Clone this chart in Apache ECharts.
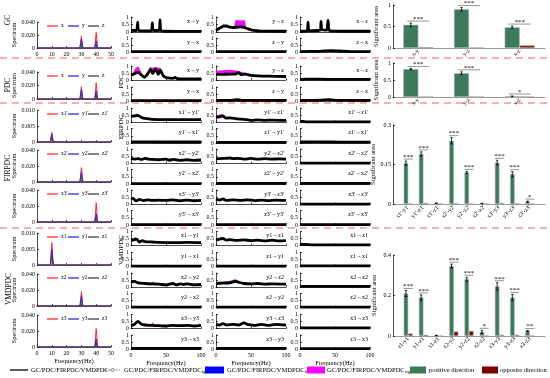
<!DOCTYPE html>
<html><head><meta charset="utf-8">
<script src="https://cdn.jsdelivr.net/npm/echarts/dist/echarts.min.js"></script>
<style>html,body{margin:0;padding:0;background:#fff}#c{width:550px;height:378px}</style>
</head><body><div id="c"></div>
<script>
// ---------------- DATA ----------------
// spectra [freq, value]
const gcSpecX = [[0,0],[9,0],[10,0.003],[11,0],[29,0],[30,0.0185],[31,0],[39,0],[40,0.024],[41,0],[50,0]];
const gcSpecY = [[0,0],[9,0],[10,0.002],[11,0],[29,0],[30,0.014],[31,0],[39,0],[40,0.011],[41,0],[50,0]];
const gcSpecZ = [[0,0],[9,0],[10,0.001],[11,0],[29,0],[30,0.007],[31,0],[39,0],[40,0.005],[41,0],[50,0]];
const pdcSpecX = [[0,0],[9,0],[10,0.002],[11,0],[29,0],[30,0.018],[31,0],[39,0],[40,0.024],[41,0],[50,0]];
const pdcSpecY = [[0,0],[9,0],[10,0.0015],[11,0],[29,0],[30,0.014],[31,0],[39,0],[40,0.012],[41,0],[50,0]];
const pdcSpecZ = [[0,0],[9,0],[10,0.001],[11,0],[29,0],[30,0.008],[31,0],[39,0],[40,0.006],[41,0],[50,0]];
const firSpec1 = [[[0,0],[9,0],[10,0.003],[11,0],[50,0]], [[0,0],[9,0],[10,0.0025],[11,0],[50,0]], [[0,0],[9,0],[10,0.0015],[11,0],[50,0]]];
const firSpec2 = [[[0,0],[29,0],[30,0.018],[31,0],[50,0]], [[0,0],[29,0],[30,0.012],[31,0],[50,0]], [[0,0],[29,0],[30,0.008],[31,0],[50,0]]];
const firSpec3 = [[[0,0],[39,0],[40,0.024],[41,0],[50,0]], [[0,0],[39,0],[40,0.010],[41,0],[50,0]], [[0,0],[39,0],[40,0.006],[41,0],[50,0]]];
const vmdSpec1 = [[[0,0],[9,0],[10,0.007],[11,0],[50,0]], [[0,0],[9,0],[10,0.005],[11,0],[50,0]], [[0,0],[9,0],[10,0.003],[11,0],[50,0]]];
const vmdSpec2 = [[[0,0],[29,0],[30,0.018],[31,0],[50,0]], [[0,0],[29,0],[30,0.012],[31,0],[50,0]], [[0,0],[29,0],[30,0.007],[31,0],[50,0]]];
const vmdSpec3 = [[[0,0],[39,0],[40,0.023],[41,0],[50,0]], [[0,0],[39,0],[40,0.010],[41,0],[50,0]], [[0,0],[39,0],[40,0.005],[41,0],[50,0]]];
const gcSpecNames = ['x','y','z'];
const firSpecNames = [["x1'","y1'","z1'"],["x2'","y2'","z2'"],["x3'","y3'","z3'"]];
const vmdSpecNames = [["x1","y1","z1"],["x2","y2","z2"],["x3","y3","z3"]];

// connectivity curves [freq, value]; significant regions [freq, low, high]
const gcB = [
  [[0,0.12],[4,0.1],[8,0.09],[9.5,0.65],[11,0.1],[20,0.08],[29,0.09],[30.5,0.6],[32,0.1],[40,0.1],[41.5,0.8],[43,0.08],[50,0.05],[70,0.04],[100,0.04]],
  [[0,0.03],[30,0.03],[60,0.02],[100,0.02]]];
const gcC = [
  [[0,0.1],[5,0.25],[10,0.38],[15,0.4],[20,0.32],[25,0.3],[30,0.32],[35,0.35],[40,0.3],[45,0.22],[50,0.15],[55,0.1],[65,0.06],[100,0.05]],
  [[0,0.02],[100,0.02]]];
const gcD = [
  [[0,0.05],[10,0.06],[11.5,0.65],[13,0.08],[25,0.1],[29,0.12],[30,0.7],[31.5,0.15],[38,0.12],[40,0.78],[42,0.1],[50,0.06],[70,0.05],[100,0.05]],
  [[0,0.03],[25,0.05],[35,0.08],[45,0.1],[55,0.07],[70,0.04],[100,0.03]]];
const gcCsig = [[[[8,0.35,0.35],[11,0.39,0.55],[14,0.4,0.4]], [[26,0.3,0.3],[28,0.31,0.8],[35,0.35,0.75],[41,0.29,0.78],[43,0.26,0.26]]], []];

const pdcB = [
  [[0,0.35],[5,0.45],[10,0.55],[15,0.35],[19,0.2],[24,0.45],[28,0.75],[31,0.45],[35,0.8],[39,0.4],[42,0.7],[46,0.3],[52,0.15],[60,0.12],[63,0.18],[66,0.1],[80,0.08],[100,0.08]],
  [[0,0.03],[100,0.03]]];
const pdcC = [
  [[0,0.4],[10,0.4],[20,0.42],[27,0.42],[32,0.52],[36,0.38],[42,0.42],[50,0.33],[60,0.3],[75,0.28],[100,0.25]],
  [[0,0.04],[20,0.05],[30,0.09],[40,0.05],[100,0.04]]];
const pdcD = [
  [[0,0.05],[20,0.06],[40,0.05],[100,0.04]],
  [[0,0.04],[30,0.06],[40,0.1],[50,0.06],[100,0.04]]];
const pdcBsig = [[[[2,0.4,0.42],[6,0.47,0.8],[10,0.55,0.98],[14,0.38,0.6],[17,0.28,0.3]], [[23,0.42,0.45],[27,0.7,0.9],[31,0.45,0.88],[35,0.8,0.9],[39,0.4,0.88],[42,0.7,0.85],[45,0.33,0.35]]], []];
const pdcCsig = [[[[0,0.4,0.65],[10,0.4,0.7],[20,0.42,0.72],[27,0.42,0.68],[32,0.52,0.62],[36,0.38,0.58],[42,0.42,0.5],[45,0.38,0.38]]], []];

const firB = [
  [[0,0.42],[5,0.45],[10,0.48],[15,0.35],[20,0.28],[30,0.22],[50,0.2],[100,0.2]],
  [[0,0.08],[50,0.07],[100,0.07]],
  [[0,0.35],[5,0.3],[10,0.33],[15,0.28],[20,0.35],[25,0.3],[30,0.28],[40,0.26],[50,0.3],[55,0.22],[60,0.28],[70,0.22],[80,0.26],[90,0.22],[100,0.24]],
  [[0,0.03],[100,0.03]],
  [[0,0.35],[3,0.42],[7,0.25],[12,0.35],[18,0.27],[25,0.32],[30,0.28],[40,0.3],[50,0.28],[60,0.32],[70,0.26],[80,0.3],[90,0.26],[100,0.28]],
  [[0,0.02],[100,0.02]]];
const firC = [
  [[0,0.35],[5,0.38],[10,0.45],[14,0.3],[20,0.32],[30,0.25],[40,0.22],[50,0.15],[60,0.18],[70,0.15],[80,0.17],[100,0.15]],
  [[0,0.05],[100,0.05]],
  [[0,0.32],[10,0.35],[20,0.38],[25,0.33],[30,0.36],[40,0.3],[50,0.35],[60,0.3],[70,0.33],[80,0.3],[90,0.32],[100,0.3]],
  [[0,0.05],[100,0.04]],
  [[0,0.35],[5,0.3],[10,0.38],[15,0.28],[25,0.32],[35,0.28],[45,0.32],[55,0.27],[65,0.3],[75,0.27],[85,0.3],[100,0.28]],
  [[0,0.02],[100,0.02]]];
const firD = [
  [[0,0.1],[5,0.08],[10,0.05],[100,0.05]],
  [[0,0.07],[30,0.08],[60,0.06],[100,0.06]],
  [[0,0.03],[100,0.03]],
  [[0,0.05],[50,0.05],[100,0.05]],
  [[0,0.03],[100,0.03]],
  [[0,0.02],[100,0.02]]];
const firBsig = [[[[2,0.43,0.45],[8,0.47,0.6],[12,0.42,0.5],[15,0.35,0.35]]], [],
  [[[0,0.35,0.4],[3,0.32,0.35]], [[18,0.33,0.33],[22,0.34,0.45],[26,0.3,0.3]], [[52,0.28,0.28],[56,0.23,0.35],[60,0.27,0.27]], [[68,0.23,0.23],[72,0.23,0.32],[76,0.24,0.24]], [[85,0.24,0.24],[88,0.22,0.32],[92,0.22,0.22]]],
  [], [[[28,0.29,0.29],[31,0.28,0.4],[34,0.29,0.29]]], []];
const firCsig = [[[[0,0.35,0.45],[5,0.38,0.55],[10,0.45,0.55],[13,0.32,0.35]]], [], [], [], [[[40,0.3,0.3],[43,0.3,0.36],[46,0.31,0.31]]], []];

const vmdB = [
  [[0,0.35],[4,0.4],[8,0.45],[12,0.25],[16,0.35],[20,0.28],[30,0.25],[40,0.22],[60,0.2],[80,0.22],[100,0.2]],
  [[0,0.03],[100,0.03]],
  [[0,0.35],[5,0.4],[10,0.3],[20,0.25],[30,0.22],[40,0.2],[50,0.15],[55,0.2],[60,0.25],[65,0.15],[70,0.22],[75,0.18],[80,0.22],[90,0.15],[100,0.18]],
  [[0,0.03],[100,0.03]],
  [[0,0.2],[5,0.3],[10,0.5],[15,0.3],[20,0.25],[30,0.22],[40,0.2],[50,0.18],[60,0.22],[70,0.2],[80,0.22],[90,0.18],[100,0.22]],
  [[0,0.04],[100,0.04]]];
const vmdC = [
  [[0,0.4],[5,0.45],[10,0.5],[15,0.38],[20,0.42],[30,0.36],[40,0.4],[50,0.35],[60,0.38],[70,0.33],[80,0.38],[90,0.33],[100,0.35]],
  [[0,0.03],[100,0.03]],
  [[0,0.25],[10,0.28],[20,0.3],[28,0.4],[32,0.35],[40,0.25],[50,0.22],[60,0.25],[70,0.2],[80,0.23],[100,0.2]],
  [[0,0.03],[100,0.03]],
  [[0,0.3],[5,0.25],[10,0.35],[15,0.25],[25,0.3],[32,0.25],[40,0.4],[45,0.3],[55,0.22],[65,0.3],[75,0.22],[85,0.3],[100,0.25]],
  [[0,0.05],[100,0.05]]];
const vmdD = [
  [[0,0.1],[10,0.07],[20,0.05],[100,0.05]],
  [[0,0.05],[100,0.05]],
  [[0,0.05],[100,0.05]],
  [[0,0.03],[100,0.03]],
  [[0,0.05],[100,0.05]],
  [[0,0.03],[100,0.03]]];
const vmdBsig = [[[[2,0.37,0.4],[6,0.42,0.6],[9,0.42,0.45]]], [],
  [[[0,0.35,0.4],[5,0.4,0.48],[9,0.32,0.35]], [[28,0.22,0.22],[31,0.22,0.38],[34,0.21,0.21]], [[57,0.22,0.22],[60,0.25,0.33],[63,0.18,0.18]], [[78,0.21,0.21],[81,0.21,0.3],[84,0.2,0.2]]],
  [], [[[28,0.22,0.22],[31,0.22,0.42],[34,0.21,0.21]], [[68,0.2,0.2],[72,0.21,0.3],[76,0.21,0.21]], [[94,0.19,0.19],[98,0.21,0.32],[100,0.22,0.22]]], []];
const vmdCsig = [[[[3,0.43,0.45],[8,0.48,0.6],[12,0.45,0.48],[15,0.38,0.38]], [[45,0.37,0.37],[50,0.35,0.42],[55,0.36,0.36]]], [],
  [[[0,0.25,0.3],[10,0.28,0.35],[20,0.3,0.42],[28,0.4,0.55],[33,0.34,0.4],[38,0.27,0.27]]], [], [[[36,0.32,0.32],[40,0.4,0.5],[44,0.32,0.32]]], []];

const gcLabels = [['x→y','y→x'],['y→z','z→y'],['x→z','z→x']];
const firLabels = [["x1'→y1'","y1'→x1'","x2'→y2'","y2'→x2'","x3'→y3'","y3'→x3'"],
                   ["y1'→z1'","z1'→y1'","y2'→z2'","z2'→y2'","y3'→z3'","z3'→y3'"],
                   ["x1'→z1'","z1'→x1'","x2'→z2'","z2'→x2'","x3'→z3'","z3'→x3'"]];
const vmdLabels = [["x1→y1","y1→x1","x2→y2","y2→x2","x3→y3","y3→x3"],
                   ["y1→z1","z1→y1","y2→z2","z2→y2","y3→z3","z3→y3"],
                   ["x1→z1","z1→x1","x2→z2","z2→x2","x3→z3","z3→x3"]];

// significant area bars
const barCats3 = ['x-y','y-z','x-z'];
const gcPos = [0.54, 0.90, 0.48], gcOpp = [0.02, 0.01, 0.06], gcErr = [0.04, 0.04, 0.03], gcStars = ['***','***','***'];
const pdcPos = [0.82, 0.70, 0.02], pdcOpp = [0.01, 0.01, 0.01], pdcErr = [0.02, 0.04, 0.01], pdcStars = ['***','***','*'];
const firCats = ["x1'-y1'","y1'-z1'","x1'-z1'","x2'-y2'","y2'-z2'","x2'-z2'","x3'-y3'","y3'-z3'","x3'-z3'"];
const firPos = [0.155, 0.19, 0.003, 0.24, 0.12, 0.002, 0.157, 0.113, 0.009];
const firOpp = [0.002, 0.004, 0.002, 0.003, 0.002, 0.001, 0.004, 0.003, 0.001];
const firErr = [0.008, 0.008, 0.001, 0.012, 0.004, 0.001, 0.009, 0.010, 0.002];
const firStars = ['***','***','','***','***','','***','***','*'];
const vmdCats = ["x1-y1","y1-z1","x1-z1","x2-y2","y2-z2","x2-z2","x3-y3","y3-z3","x3-z3"];
const vmdPos = [0.21, 0.19, 0.003, 0.345, 0.28, 0.02, 0.245, 0.19, 0.025];
const vmdOpp = [0.012, 0.006, 0.002, 0.022, 0.025, 0.002, 0.006, 0.006, 0.002];
const vmdErr = [0.015, 0.013, 0.001, 0.010, 0.010, 0.008, 0.018, 0.015, 0.002];
const vmdStars = ['***','***','','***','***','*','***','***','**'];

// ---------------- BUILD ----------------
const FONT = 'Liberation Serif';
const GREEN = '#3c7a5b', DRED = '#7d0000', MAG = '#ff00ff';
const grids = [], xAxes = [], yAxes = [], series = [], graphics = [];

function grid(l, t, w, h) {
  grids.push({left: l, top: t, width: w, height: h, containLabel: false, outerBoundsMode: 'none'});
  return grids.length - 1;
}
function ax(extra) {
  return Object.assign({
    axisLine: {show: true, onZero: false, lineStyle: {color: '#000', width: 0.7}},
    axisTick: {show: true, inside: true, length: 2, lineStyle: {color: '#000', width: 0.7}},
    splitLine: {show: false},
    axisLabel: {fontSize: 6, fontFamily: FONT, color: '#000', margin: 2}
  }, extra);
}
function text(x, y, s, opt) {
  graphics.push(Object.assign({type: 'text', x: x, y: y, silent: true,
    style: Object.assign({text: s, fontSize: 6, fontFamily: FONT, fill: '#000'}, (opt && opt.style) || {})},
    (opt && opt.el) || {}));
}
function vtext(x, y, s, size) {
  graphics.push({type: 'text', x: x, y: y, rotation: Math.PI / 2, silent: true,
    style: {text: s, fontSize: size || 7, fontFamily: FONT, fill: '#000', align: 'center', verticalAlign: 'middle'}});
}
function line(x1, y1, x2, y2, style) {
  graphics.push({type: 'line', silent: true, shape: {x1, y1, x2, y2}, style: Object.assign({stroke: '#000', lineWidth: 1}, style)});
}

// spectrum panel
const SX = 37, SW = 74;
function spec(top, bot, maxV, curves, names, showX, showTitle) {
  const g = grid(SX, top, SW, bot - top);
  xAxes.push(ax({gridIndex: g, type: 'value', min: 0, max: 50, interval: 10,
    axisLabel: {show: showX, fontSize: 6, fontFamily: FONT, color: '#000', margin: 3},
    name: showTitle ? 'Frequency(Hz)' : '', nameLocation: 'middle', nameGap: 11,
    nameTextStyle: {fontSize: 6.5, fontFamily: FONT, color: '#000'}}));
  yAxes.push(ax({gridIndex: g, type: 'value', min: 0, max: maxV, interval: maxV / 2,
    axisLabel: {fontSize: 6, fontFamily: FONT, color: '#000', margin: 2, formatter: v => v === 0 ? '0' : v.toFixed(3)},
    name: 'Spectrum', nameLocation: 'middle', nameGap: 16, nameRotate: 90,
    nameTextStyle: {fontSize: 6.5, fontFamily: FONT, color: '#000'}}));
  const ai = xAxes.length - 1;
  const cols = ['#ff2a2a', '#2a2aff', '#444444'];
  curves.forEach((c, k) => series.push({type: 'line', xAxisIndex: ai, yAxisIndex: ai, data: c, showSymbol: false,
    lineStyle: {color: cols[k], width: 1}, areaStyle: k === 0 ? {color: 'rgba(255,80,80,0.45)'} : (k === 1 ? {color: 'rgba(60,60,255,0.5)'} : undefined),
    silent: true, animation: false, z: 2 + k}));
  const ly = top + 4;
  const lc = ['#ff5555', '#5555ff', '#666666'];
  [[10, 21, 24], [31, 42, 45], [51, 62, 65]].forEach((p, k) => {
    line(SX + p[0], ly, SX + p[1], ly, {stroke: lc[k], lineWidth: 1.6});
    text(SX + p[2], ly, names[k], {style: {verticalAlign: 'middle', fontSize: 5.5}});
  });
}

// connectivity panel
const MX = [131, 216, 300], MW = 70;
function mid(col, top, h, mean, sig, label, showX) {
  const g = grid(MX[col], top, MW, h);
  xAxes.push(ax({gridIndex: g, type: 'value', min: 0, max: 100, interval: 50,
    axisLabel: {show: showX, fontSize: 6, fontFamily: FONT, color: '#000', margin: 3},
    name: showX ? 'Frequency(Hz)' : '', nameLocation: 'middle', nameGap: 11,
    nameTextStyle: {fontSize: 6.5, fontFamily: FONT, color: '#000'}}));
  yAxes.push(ax({gridIndex: g, type: 'value', min: 0, max: 1, interval: 0.5}));
  const ai = xAxes.length - 1;
  (sig || []).forEach(reg => series.push({type: 'custom', xAxisIndex: ai, yAxisIndex: ai, data: [[0, 0]], silent: true, animation: false, z: 2,
    renderItem: (p, api) => {
      const pts = [];
      reg.forEach(r => pts.push(api.coord([r[0], r[2]])));
      for (let i = reg.length - 1; i >= 0; i--) pts.push(api.coord([reg[i][0], reg[i][1]]));
      return {type: 'polygon', shape: {points: pts}, style: {fill: MAG, stroke: '#555', lineWidth: 0.3}};
    }}));
  series.push({type: 'line', xAxisIndex: ai, yAxisIndex: ai, data: mean, showSymbol: false, smooth: 0.25,
    lineStyle: {color: '#000', width: 2.8}, silent: true, animation: false, z: 3});
  text(MX[col] + MW - 2, top + 4, label, {style: {align: 'right', verticalAlign: 'middle', fontSize: 6}});
}

// bar panel
const BX = 393, BW = 152;
function bars(top, bot, cats, pos, opp, err, stars, ymax, yint, numeric, bw, half) {
  const g = grid(BX, top, BW, bot - top);
  const xa = numeric
    ? ax({gridIndex: g, type: 'value', min: 0, max: cats.length + 1, interval: 1,
        axisLine: {show: true, lineStyle: {color: '#999', width: 1}}, axisTick: {show: false},
        axisLabel: {fontSize: 6, fontFamily: FONT, color: '#000', rotate: 45, margin: 2, formatter: v => cats[v - 1] || ''}})
    : ax({gridIndex: g, type: 'category', data: cats,
        axisLine: {show: true, lineStyle: {color: '#999', width: 1}}, axisTick: {show: false},
        axisLabel: {fontSize: 6, fontFamily: FONT, color: '#000', rotate: 45, margin: 2}});
  xAxes.push(xa);
  yAxes.push(ax({gridIndex: g, type: 'value', min: 0, max: ymax, interval: yint,
    name: 'Significant area', nameLocation: 'middle', nameGap: numeric ? 15 : 12, nameRotate: 90,
    nameTextStyle: {fontSize: 6.5, fontFamily: FONT, color: '#000'}}));
  const ai = xAxes.length - 1;
  const xv = i => numeric ? i + 1 : i;
  series.push({type: 'bar', xAxisIndex: ai, yAxisIndex: ai, data: pos.map((v, i) => numeric ? [i + 1, v] : v),
    barWidth: bw, barGap: '0%', itemStyle: {color: GREEN, borderColor: '#aaa', borderWidth: 0.6}, silent: true, animation: false});
  series.push({type: 'bar', xAxisIndex: ai, yAxisIndex: ai, data: opp.map((v, i) => numeric ? [i + 1, v] : v),
    barWidth: bw, barGap: '0%', itemStyle: {color: DRED, borderColor: '#aaa', borderWidth: 0.6}, silent: true, animation: false});
  series.push({type: 'custom', xAxisIndex: ai, yAxisIndex: ai, silent: true, animation: false, z: 5,
    data: pos.map((v, i) => [xv(i), v, err[i]]),
    renderItem: (p, api) => {
      const x = api.value(0), v = api.value(1), e = api.value(2);
      const a = api.coord([x, Math.max(0, v - e)]), b = api.coord([x, v + e]);
      const cx = a[0] - bw / 2, st = {stroke: '#000', lineWidth: 0.8};
      return {type: 'group', children: [
        {type: 'line', shape: {x1: cx, y1: a[1], x2: cx, y2: b[1]}, style: st},
        {type: 'line', shape: {x1: cx - 1.2, y1: b[1], x2: cx + 1.2, y2: b[1]}, style: st},
        {type: 'line', shape: {x1: cx - 1.2, y1: a[1], x2: cx + 1.2, y2: a[1]}, style: st}]};
    }});
  const sd = [];
  stars.forEach((s, i) => { if (s) sd.push([xv(i), pos[i] + err[i], i]); });
  series.push({type: 'custom', xAxisIndex: ai, yAxisIndex: ai, silent: true, animation: false, z: 5, data: sd,
    renderItem: (p, api) => {
      const c = api.coord([api.value(0), api.value(1)]);
      const y = c[1] - 2;
      return {type: 'group', children: [
        {type: 'line', shape: {x1: c[0] - half, y1: y, x2: c[0] + half, y2: y}, style: {stroke: '#888', lineWidth: 0.9}},
        {type: 'text', style: {text: stars[api.value(2)], x: c[0], y: y + 1.5, align: 'center', verticalAlign: 'bottom', fontSize: 7, fontFamily: FONT, fill: '#000'}}]};
    }});
}

// ---- GC ----
spec(22, 48, 0.04, [gcSpecX, gcSpecY, gcSpecZ], gcSpecNames, true, false);
[gcB, gcC, gcD].forEach((arr, col) => {
  const sigs = [null, gcCsig, null][col];
  [[17, 15], [38, 14]].forEach((r, k) => mid(col, r[0], r[1], arr[k], sigs ? sigs[k] : [], gcLabels[col][k], false));
});
bars(5, 48, barCats3, gcPos, gcOpp, gcErr, gcStars, 1, 0.5, false, 15, 11);
// ---- PDC ----
spec(72, 99, 0.04, [pdcSpecX, pdcSpecY, pdcSpecZ], gcSpecNames, false, false);
[pdcB, pdcC, pdcD].forEach((arr, col) => {
  const sigs = [pdcBsig, pdcCsig, null][col];
  [[66, 14], [87, 14]].forEach((r, k) => mid(col, r[0], r[1], arr[k], sigs ? sigs[k] : [], gcLabels[col][k], false));
});
bars(63, 97, barCats3, pdcPos, pdcOpp, pdcErr, pdcStars, 1, 0.5, false, 15, 11);
// ---- FIRPDC ----
[[110, 142, 0.01, firSpec1], [150, 182, 0.04, firSpec2], [190, 222, 0.04, firSpec3]].forEach((s, k) =>
  spec(s[0], s[1], s[2], s[3], firSpecNames[k], false, false));
const firTops = [108, 128.5, 149, 169.5, 190, 210.5];
[firB, firC, firD].forEach((arr, col) => {
  const sigs = [firBsig, firCsig, null][col];
  firTops.forEach((t, k) => mid(col, t, 14.5, arr[k], sigs ? sigs[k] : [], firLabels[col][k], false));
});
bars(125, 204, firCats, firPos, firOpp, firErr, firStars, 0.3, 0.15, true, 4.5, 4.5);
// ---- VMDPDC ----
[[233, 265, 0.01, vmdSpec1], [274, 306, 0.04, vmdSpec2], [315, 347, 0.04, vmdSpec3]].forEach((s, k) =>
  spec(s[0], s[1], s[2], s[3], vmdSpecNames[k], k === 2, k === 2));
const vmdTops = [231.5, 252.5, 273, 293.5, 314.5, 335];
[vmdB, vmdC, vmdD].forEach((arr, col) => {
  const sigs = [vmdBsig, vmdCsig, null][col];
  vmdTops.forEach((t, k) => mid(col, t, 14, arr[k], sigs ? sigs[k] : [], vmdLabels[col][k], k === 5));
});
bars(255, 336, vmdCats, vmdPos, vmdOpp, vmdErr, vmdStars, 0.4, 0.2, true, 4.5, 4.5);

// separators
[58, 103, 228].forEach(y => line(0, y, 550, y, {stroke: '#f26060', lineWidth: 1.2, lineDash: [7, 5]}));
// row labels
vtext(8, 20, 'GC', 7.5); vtext(8, 85, 'PDC', 7.5); vtext(8, 168, 'FIRPDC', 7.5); vtext(9, 289, 'VMDPDC', 7.5);
vtext(121, 82, 'PDC', 7); vtext(121, 127, 'FIRPDC', 7); vtext(121, 250, 'VMDPDC', 7);

// bottom legend
const LY = 370;
const ltxt = (x, s, sub) => graphics.push({type: 'text', x: x, y: LY, silent: true,
  style: {text: sub ? s + '{s|' + sub + '}' : s, fontSize: 6.5, fontFamily: FONT, fill: '#000', verticalAlign: 'middle',
    rich: {s: {fontSize: 4.5, fontFamily: FONT, fill: '#000', verticalAlign: 'bottom', padding: [4, 0, 0, 0]}}}});
line(10, LY, 28, LY, {stroke: '#333', lineWidth: 1.6}); ltxt(31, 'GC/PDC/FIRPDC/VMDPDC');
line(105, LY, 120, LY, {stroke: '#555', lineWidth: 0.8, lineDash: [2, 1.5]});
graphics.push({type: 'polygon', silent: true, shape: {points: [[112.5, LY - 2], [114.5, LY], [112.5, LY + 2], [110.5, LY]]}, style: {fill: '#fff', stroke: '#444', lineWidth: 0.7}});
ltxt(124, 'GC/PDC/FIRPDC/VMDPDC', 'tg');
graphics.push({type: 'rect', silent: true, shape: {x: 205, y: LY - 3.5, width: 19, height: 7}, style: {fill: '#0000ff'}});
ltxt(227, 'GC/PDC/FIRPDC/VMDPDC', 'bl');
graphics.push({type: 'rect', silent: true, shape: {x: 307, y: LY - 3.5, width: 18, height: 7}, style: {fill: MAG}});
ltxt(327, 'GC/PDC/FIRPDC/VMDPDC', 'sig');
graphics.push({type: 'rect', silent: true, shape: {x: 410, y: LY - 3.5, width: 16, height: 7}, style: {fill: GREEN}});
ltxt(429, 'positive direction');
graphics.push({type: 'rect', silent: true, shape: {x: 482, y: LY - 3.5, width: 16, height: 7}, style: {fill: DRED}});
ltxt(500, 'opposite direction');

const chart = echarts.init(document.getElementById('c'), null, {renderer: 'canvas'});
chart.setOption({animation: false, backgroundColor: '#fff', grid: grids, xAxis: xAxes, yAxis: yAxes, series: series, graphic: {elements: graphics}});
</script></body></html>
